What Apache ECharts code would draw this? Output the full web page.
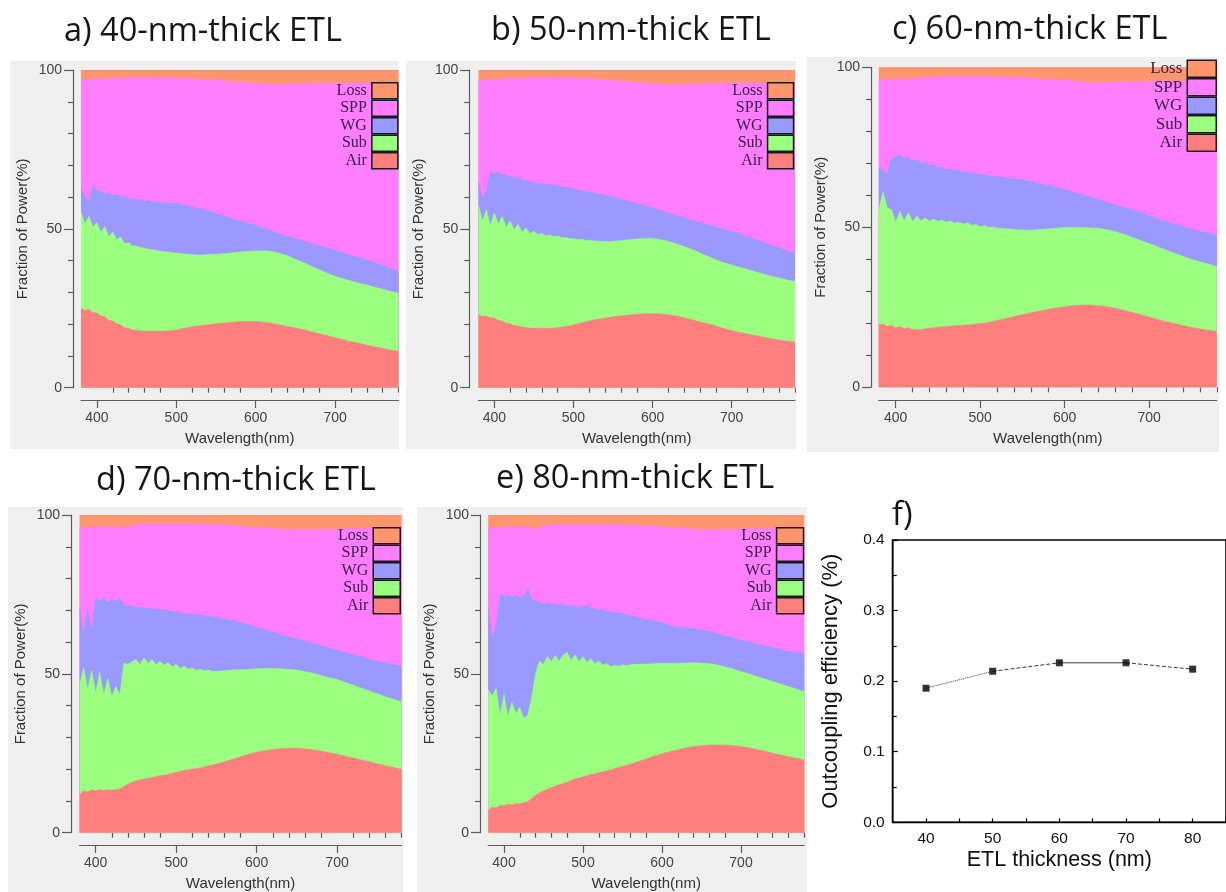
<!DOCTYPE html>
<html>
<head>
<meta charset="utf-8">
<script src="https://cdn.jsdelivr.net/npm/echarts@6/dist/echarts.min.js"></script>
<style>
  html, body { margin: 0; padding: 0; background: #ffffff; }
  #chart { width: 1226px; height: 892px; }
</style>
</head>
<body>
<div id="chart"></div>
<script>
// Wavelength grid (nm): 5 nm steps up to 560 nm, 10 nm steps after.
const wavelength = [
  380,385,390,395,400,405,410,415,420,425,
  430,435,440,445,450,455,460,465,470,475,
  480,485,490,495,500,505,510,515,520,525,
  530,535,540,545,550,555,560,
  570,580,590,600,610,620,630,640,650,660,
  670,680,690,700,710,720,730,740,750,760,770,780
];

// Upper edge of each band (cumulative fraction of power, %). Loss fills up to 100.
// 40-nm ETL
const aAir = [25.0,24.4,24.6,23.7,23.5,22.6,22.3,21.2,21.0,20.1,
  19.8,18.9,18.7,18.2,18.0,17.9,17.8,17.8,17.8,17.8,
  17.8,17.8,17.9,18.0,18.2,18.5,18.7,18.9,19.2,19.4,
  19.5,19.7,19.8,20.0,20.1,20.3,20.4,
  20.6,20.8,20.8,20.8,20.6,20.3,19.8,19.3,18.8,18.3,
  17.6,17.0,16.4,15.7,15.1,14.5,14.0,13.4,12.9,12.4,11.9,11.5];
const aSub = [55.4,51.5,54.0,50.5,52.0,48.8,50.8,47.5,49.0,46.5,
  47.5,45.3,45.6,44.6,44.6,44.1,43.9,43.6,43.4,43.2,
  43.0,42.8,42.7,42.5,42.4,42.2,42.1,42.0,41.9,41.8,
  41.8,41.8,41.9,41.9,42.0,42.1,42.2,
  42.4,42.7,42.9,43.0,43.1,42.9,42.3,41.5,40.4,39.4,
  38.2,37.1,36.0,35.0,34.3,33.6,32.9,32.3,31.6,31.0,30.3,29.7];
const aWg = [62.7,60.0,58.5,63.3,62.2,61.8,61.0,61.2,60.5,60.7,
  60.0,60.1,59.4,59.5,59.0,59.2,58.7,58.9,58.4,58.5,
  58.2,58.3,58.0,58.1,57.9,57.7,57.5,57.2,56.9,56.6,
  56.3,56.0,55.7,55.3,54.9,54.5,54.1,
  53.2,52.5,51.8,51.1,50.2,49.3,48.4,47.6,46.9,46.2,
  45.4,44.7,44.0,43.3,42.5,41.7,40.9,40.1,39.3,38.5,37.6,36.7];
const aSpp = [97.0,97.1,97.1,97.2,97.2,97.3,97.3,97.4,97.4,97.5,
  97.5,97.5,97.6,97.6,97.6,97.6,97.6,97.6,97.6,97.6,
  97.6,97.6,97.5,97.5,97.5,97.4,97.4,97.3,97.3,97.2,
  97.1,97.0,97.0,96.9,96.8,96.7,96.6,
  96.4,96.2,96.0,95.8,95.6,95.5,95.5,95.5,95.6,95.7,
  95.8,95.9,95.9,95.9,95.9,95.9,95.9,95.9,95.9,95.9,95.8,95.8];

// 50-nm ETL
const bAir = [22.9,22.5,22.6,22.0,21.9,21.2,21.0,20.3,20.1,19.6,
  19.4,19.1,18.9,18.8,18.7,18.7,18.7,18.7,18.7,18.8,
  18.9,19.1,19.3,19.5,19.8,20.1,20.4,20.7,21.0,21.3,
  21.5,21.7,21.9,22.1,22.3,22.5,22.6,
  22.9,23.1,23.3,23.3,23.2,23.0,22.6,22.0,21.4,20.7,
  20.1,19.4,18.6,18.0,17.4,16.9,16.4,15.9,15.4,15.0,14.7,14.4];
const bSub = [57.5,52.5,56.0,51.0,55.0,51.5,54.0,50.5,52.5,49.8,
  51.5,49.0,50.3,48.5,49.2,48.2,48.5,47.8,48.1,47.6,
  47.7,47.3,47.2,47.0,46.9,46.6,46.7,46.4,46.4,46.2,
  46.2,46.0,46.1,46.0,46.1,46.2,46.3,
  46.6,46.8,47.0,47.0,46.6,46.1,45.3,44.4,43.5,42.4,
  41.3,40.3,39.3,38.6,37.9,37.2,36.5,35.8,35.1,34.5,33.9,33.4];
const bWg = [64.8,59.6,62.0,68.0,67.3,67.8,67.0,66.8,66.4,66.2,
  65.8,65.5,65.2,64.9,64.6,64.3,64.2,64.0,63.9,63.8,
  63.5,63.2,63.0,62.8,62.6,62.2,62.0,61.8,61.6,61.3,
  61.0,60.8,60.6,60.3,60.0,59.7,59.3,
  58.7,58.0,57.3,56.6,55.8,54.9,54.2,53.4,52.7,52.0,
  51.3,50.6,49.9,49.1,48.4,47.5,46.6,45.7,44.8,44.0,43.1,42.3];
const bSpp = [96.6,96.7,96.8,96.9,97.0,97.1,97.2,97.3,97.3,97.4,
  97.4,97.5,97.5,97.5,97.6,97.6,97.6,97.6,97.6,97.6,
  97.6,97.6,97.6,97.5,97.5,97.5,97.4,97.4,97.3,97.2,
  97.1,97.0,96.9,96.8,96.7,96.6,96.5,
  96.3,96.1,95.9,95.7,95.5,95.4,95.4,95.4,95.5,95.6,
  95.7,95.8,95.8,95.9,95.9,95.9,95.9,95.8,95.8,95.8,95.8,95.8];

// 60-nm ETL
const cAir = [19.5,19.8,19.0,19.4,18.6,19.0,18.3,18.6,18.0,18.1,
  18.0,18.3,18.5,18.6,18.8,18.9,19.0,19.1,19.2,19.3,
  19.4,19.5,19.6,19.8,19.9,20.1,20.3,20.6,20.9,21.2,
  21.5,21.8,22.1,22.4,22.7,23.0,23.3,
  23.8,24.4,24.8,25.2,25.5,25.7,25.7,25.5,25.2,24.7,
  24.1,23.4,22.7,22.0,21.2,20.5,19.9,19.3,18.7,18.2,17.8,17.4];
const cSub = [55.4,61.0,56.0,55.5,51.5,55.0,52.0,54.5,51.8,53.5,
  52.0,52.8,52.0,52.6,51.8,52.3,51.6,52.0,51.3,51.6,
  51.0,51.4,50.6,50.9,50.2,50.5,49.9,50.1,49.7,49.7,
  49.5,49.5,49.3,49.2,49.2,49.1,49.1,
  49.3,49.5,49.7,49.9,49.9,49.9,49.8,49.7,49.2,48.6,
  47.8,46.8,45.9,44.9,43.9,42.9,41.9,40.9,40.0,39.2,38.5,37.7];
const cWg = [68.4,68.0,66.4,71.5,72.0,72.6,71.5,72.0,70.8,71.2,
  70.0,70.2,69.3,69.4,68.6,68.7,68.0,68.2,67.6,67.8,
  67.2,67.3,66.9,66.9,66.5,66.4,66.1,66.0,65.8,65.7,
  65.5,65.3,65.1,65.0,64.8,64.5,64.3,
  63.6,63.1,62.5,61.8,61.0,60.2,59.4,58.6,57.8,57.0,
  56.2,55.4,54.5,53.6,52.7,51.8,51.0,50.2,49.4,48.7,48.1,47.6];
const cSpp = [96.0,96.6,95.8,96.5,96.0,96.6,96.2,96.7,96.3,96.8,
  96.5,96.9,96.7,97.0,97.0,97.1,97.1,97.1,97.1,97.1,
  97.1,97.1,97.1,97.1,97.1,97.1,97.1,97.0,97.0,97.0,
  96.9,96.9,96.8,96.8,96.7,96.7,96.6,
  96.4,96.2,96.1,96.0,95.7,95.4,95.3,95.3,95.3,95.4,
  95.5,95.6,95.6,95.7,95.7,95.7,95.7,95.7,95.7,95.7,95.7,95.7];

// 70-nm ETL
const dAir = [11.9,13.2,12.8,13.5,13.2,13.5,13.3,13.5,13.4,13.6,
  13.8,14.5,15.3,15.9,16.3,16.6,16.9,17.1,17.4,17.7,
  17.9,18.1,18.4,18.7,19.0,19.3,19.6,19.8,20.0,20.2,
  20.4,20.7,21.0,21.3,21.6,21.9,22.3,
  23.1,23.9,24.7,25.3,25.8,26.2,26.5,26.6,26.6,26.4,
  26.1,25.7,25.2,24.7,24.1,23.5,22.9,22.3,21.7,21.1,20.5,19.9];
const dSub = [46.5,52.0,45.0,51.0,44.0,50.5,43.5,48.5,42.8,46.0,
  43.5,53.3,53.0,53.8,54.5,53.0,55.0,53.3,54.5,52.8,
  54.0,52.7,53.5,52.3,53.0,51.7,52.5,51.5,51.8,51.2,
  51.4,51.0,51.2,50.8,50.8,50.9,51.0,
  51.2,51.3,51.4,51.6,51.7,51.7,51.6,51.4,51.2,50.7,
  50.2,49.5,48.8,48.2,47.3,46.4,45.5,44.6,43.7,42.8,42.0,41.2];
const dWg = [71.0,62.0,70.5,63.0,73.8,73.2,73.8,72.5,73.5,72.7,
  73.8,71.6,71.4,71.2,70.8,71.0,70.5,70.7,70.4,70.5,
  70.1,70.3,69.9,69.6,69.4,69.2,69.0,68.9,68.7,68.6,
  68.5,68.3,68.1,67.9,67.8,67.5,67.3,
  66.7,66.1,65.4,64.6,63.9,63.1,62.3,61.6,61.0,60.3,
  59.5,58.8,58.1,57.4,56.7,56.0,55.3,54.6,54.0,53.4,52.9,52.5];
const dSpp = [96.1,96.0,96.2,96.1,96.3,96.3,96.3,96.3,96.3,96.3,
  96.2,96.0,96.4,96.7,97.0,97.1,97.2,97.2,97.2,97.2,
  97.2,97.2,97.2,97.2,97.2,97.2,97.2,97.2,97.2,97.1,
  97.1,97.1,97.0,97.0,97.0,96.9,96.9,
  96.7,96.5,96.3,96.1,95.9,95.7,95.6,95.5,95.5,95.5,
  95.5,95.6,95.6,95.6,95.7,95.7,95.7,95.8,95.8,95.8,95.8,95.8];

// 80-nm ETL
const eAir = [7.1,8.0,7.8,8.6,8.5,8.9,8.8,9.2,9.1,9.4,
  9.8,10.8,11.8,12.6,13.2,13.7,14.2,14.7,15.1,15.5,
  15.9,16.4,17.0,17.2,17.6,18.0,18.4,18.5,18.9,19.2,
  19.5,19.8,20.2,20.5,20.9,21.2,21.6,
  22.4,23.2,24.1,24.9,25.5,26.1,26.7,27.1,27.4,27.6,
  27.6,27.6,27.4,27.1,26.7,26.2,25.7,25.0,24.5,23.9,23.4,22.9];
const eSub = [44.9,43.0,45.4,37.0,43.5,36.5,41.0,37.5,39.5,36.0,
  37.0,42.5,50.0,54.0,53.0,55.5,53.8,55.8,54.0,56.0,
  56.7,54.2,56.0,53.8,55.5,53.5,54.8,53.2,54.0,52.8,
  53.2,52.3,52.6,52.4,52.8,52.6,52.9,
  53.0,53.1,53.2,53.3,53.3,53.3,53.4,53.5,53.4,53.2,
  52.8,52.2,51.5,50.7,50.0,49.2,48.4,47.6,46.8,46.0,45.2,44.4];
const eWg = [71.0,61.0,65.0,74.8,74.5,74.8,74.2,74.6,74.0,74.5,
  76.9,73.2,73.0,72.4,72.0,72.3,71.8,72.0,71.6,71.8,
  71.3,71.5,71.1,71.2,70.9,71.6,70.6,70.5,70.2,70.0,
  69.7,69.5,69.3,69.2,69.0,68.6,68.3,
  67.7,67.1,66.6,66.0,65.2,64.7,64.4,64.2,63.8,63.3,
  62.6,62.0,61.3,60.6,60.0,59.4,58.8,58.2,57.6,57.1,56.8,56.5];
const eSpp = [95.8,95.9,96.0,96.1,96.2,96.3,96.3,96.3,96.4,96.3,
  96.2,95.8,95.5,95.9,96.5,96.8,96.9,97.0,97.0,97.0,
  97.0,97.0,97.0,97.0,97.0,97.0,97.0,97.0,97.0,97.0,
  97.0,97.0,97.0,96.9,96.9,96.9,96.8,
  96.7,96.6,96.5,96.3,96.1,95.9,95.7,95.6,95.5,95.5,
  95.5,95.5,95.6,95.6,95.7,95.7,95.7,95.8,95.8,95.8,95.8,95.8];

// Outcoupling efficiency versus ETL thickness
const thickness = [40, 50, 60, 70, 80];
const efficiency = [0.190, 0.214, 0.226, 0.226, 0.217];

// Tick values
const wlMajorTicks = [400, 500, 600, 700];
const wlMinorTicks = [420,440,460,480,520,540,560,580,620,640,660,680,720,740,760,780];
const thickTicks = [40, 45, 50, 55, 60, 65, 70, 75, 80];
const thickLabels = [40, 50, 60, 70, 80];

const legendOrder = ['Loss', 'SPP', 'WG', 'Sub', 'Air'];
const bandColors = { Air: '#ff7f7f', Sub: '#9bff7f', WG: '#9999ff', SPP: '#ff7dff', Loss: '#ff956c' };

const panels = [
  { title: 'a) 40-nm-thick ETL', air: aAir, sub: aSub, wg: aWg, spp: aSpp },
  { title: 'b) 50-nm-thick ETL', air: bAir, sub: bSub, wg: bWg, spp: bSpp },
  { title: 'c) 60-nm-thick ETL', air: cAir, sub: cSub, wg: cWg, spp: cSpp },
  { title: 'd) 70-nm-thick ETL', air: dAir, sub: dSub, wg: dWg, spp: dSpp },
  { title: 'e) 80-nm-thick ETL', air: eAir, sub: eSub, wg: eWg, spp: eSpp }
];

// Page layout of the five spectra panels
const layout = [
  { grid: { left: 81,    top: 70,   width: 317.6, height: 317.7 }, yOff: 8,   xOff: 12.3,
    legend: { right: 827.4, top: 82,   w: 26, h: 16 }, bg: [10, 61, 389, 388],  title: [64, 32] },
  { grid: { left: 478.5, top: 70,   width: 316.5, height: 317.7 }, yOff: 9.2, xOff: 12.3,
    legend: { right: 431.7, top: 82,   w: 26, h: 16 }, bg: [406, 61, 390, 388], title: [491, 31] },
  { grid: { left: 878.8, top: 67.3, width: 338,   height: 320 },   yOff: 7.7, xOff: 12.7,
    legend: { right: 9,     top: 59.5, w: 29, h: 17 }, bg: [807, 57, 412, 395], title: [892, 30] },
  { grid: { left: 79.6,  top: 515,  width: 322,   height: 317.7 }, yOff: 8.6, xOff: 12.3,
    legend: { right: 825,   top: 527,  w: 27, h: 16 }, bg: [8, 507, 395, 385],  title: [96, 481] },
  { grid: { left: 488.2, top: 515,  width: 316,   height: 317.7 }, yOff: 8.2, xOff: 12.3,
    legend: { right: 421.7, top: 527,  w: 27, h: 16 }, bg: [417, 507, 390, 385], title: [496, 479] }
];

const axisGray = '#5c5c5c';
const sansFont = '"Liberation Sans", Arial, sans-serif';
const titleFont = '32.5px "Open Sans", sans-serif';

const grids = [], xAxes = [], yAxes = [], legends = [], series = [], graphics = [];

panels.forEach((p, i) => {
  const L = layout[i];
  grids.push(Object.assign({ containLabel: false }, L.grid));

  // main wavelength axis with labels and long ticks
  xAxes.push({
    type: 'value', gridIndex: i, position: 'bottom', offset: L.xOff, min: 380, max: 780,
    axisLine: { show: true, onZero: false, lineStyle: { color: axisGray, width: 1.2 } },
    axisTick: { show: true, customValues: wlMajorTicks, length: 8, lineStyle: { color: axisGray, width: 1.2 } },
    axisLabel: { customValues: wlMajorTicks, margin: 11, fontSize: 14, color: '#444', fontFamily: sansFont },
    splitLine: { show: false },
    name: 'Wavelength(nm)', nameLocation: 'middle', nameGap: 31,
    nameTextStyle: { fontSize: 15, color: '#333', fontFamily: sansFont }
  });
  // short intermediate ticks every 20 nm
  xAxes.push({
    type: 'value', gridIndex: i, position: 'bottom', offset: L.xOff, min: 380, max: 780,
    axisLine: { show: false },
    axisTick: { show: true, customValues: wlMinorTicks, length: 5, lineStyle: { color: axisGray, width: 1.2 } },
    axisLabel: { show: false }, splitLine: { show: false }
  });

  yAxes.push({
    type: 'value', gridIndex: i, position: 'left', offset: L.yOff, min: 0, max: 100, interval: 50,
    axisLine: { show: true, onZero: false, lineStyle: { color: axisGray, width: 1.2 } },
    axisTick: { show: true, length: 9, lineStyle: { color: axisGray, width: 1.2 } },
    minorTick: { show: true, splitNumber: 5, length: 5, lineStyle: { color: axisGray, width: 1.2 } },
    axisLabel: { margin: 11, fontSize: 14, color: '#444', fontFamily: sansFont },
    splitLine: { show: false }, minorSplitLine: { show: false },
    name: 'Fraction of Power(%)', nameLocation: 'middle', nameGap: 43, nameRotate: 90,
    nameTextStyle: { fontSize: 15, color: '#333', fontFamily: sansFont }
  });

  legends.push({
    data: legendOrder, orient: 'vertical', right: L.legend.right, top: L.legend.top,
    itemGap: 0, itemWidth: L.legend.w, itemHeight: L.legend.h, icon: 'rect', align: 'right',
    padding: 0, selectedMode: false,
    itemStyle: { borderColor: '#1a1a1a', borderWidth: 1.5 },
    textStyle: { fontFamily: '"Liberation Serif", "Times New Roman", serif', fontSize: L.legend.h,
      lineHeight: L.legend.h, color: '#3a2048' }
  });

  // Each band is filled from its upper edge down to 0; bands further down are
  // painted later, so every colour shows between its own edge and the next one.
  const bands = [
    ['Loss', wavelength.map(() => 100)],
    ['SPP',  p.spp],
    ['WG',   p.wg],
    ['Sub',  p.sub],
    ['Air',  p.air]
  ];
  bands.forEach(([name, edge], b) => {
    series.push({
      type: 'line', name, xAxisIndex: 2 * i, yAxisIndex: i,
      data: wavelength.map((w, k) => [w, edge[k]]),
      symbol: 'none', silent: true, z: 2 + b,
      lineStyle: { width: 0.6, color: bandColors[name] },
      itemStyle: { color: bandColors[name] },
      areaStyle: { color: bandColors[name], opacity: 1, origin: 'start' }
    });
  });

  graphics.push({
    type: 'rect', z: -10, silent: true,
    shape: { x: L.bg[0], y: L.bg[1], width: L.bg[2], height: L.bg[3] },
    style: { fill: '#efefef' }
  });
  graphics.push({
    type: 'text', z: 100, silent: true, x: L.title[0], y: L.title[1],
    style: { text: p.title, font: titleFont, fill: '#151515', align: 'left', verticalAlign: 'middle' }
  });
});

// Panel f: outcoupling efficiency
const fGrid = grids.length;
grids.push({ left: 892.7, top: 540, width: 338, height: 282.3, show: true,
  borderColor: '#000', borderWidth: 1.6, backgroundColor: 'transparent' });
const fX = xAxes.length;
xAxes.push({
  type: 'value', gridIndex: fGrid, position: 'bottom', min: 35, max: 85,
  axisLine: { show: true, onZero: false, lineStyle: { color: '#000', width: 1.4 } },
  axisTick: { show: true, inside: true, customValues: thickTicks, length: 4, lineStyle: { color: '#000', width: 1.2 } },
  axisLabel: { customValues: thickLabels, margin: 8, fontSize: 15.5, color: '#111', fontFamily: sansFont },
  splitLine: { show: false },
  name: 'ETL thickness (nm)', nameLocation: 'middle', nameGap: 27,
  nameTextStyle: { fontSize: 21.5, color: '#111', fontFamily: sansFont }
});
const fY = yAxes.length;
yAxes.push({
  type: 'value', gridIndex: fGrid, position: 'left', min: 0, max: 0.4, interval: 0.1,
  axisLine: { show: true, onZero: false, lineStyle: { color: '#000', width: 1.4 } },
  axisTick: { show: true, inside: true, length: 5, lineStyle: { color: '#000', width: 1.2 } },
  minorTick: { show: true, splitNumber: 2, length: 4, lineStyle: { color: '#000', width: 1.2 } },
  axisLabel: { margin: 8, fontSize: 15.5, color: '#111', fontFamily: sansFont, formatter: v => v.toFixed(1) },
  splitLine: { show: false }, minorSplitLine: { show: false },
  name: 'Outcoupling efficiency (%)', nameLocation: 'middle', nameGap: 51, nameRotate: 90,
  nameTextStyle: { fontSize: 22, color: '#111', fontFamily: sansFont }
});

// connecting segments keep their individual stroke styles
const segmentTypes = ['dotted', 'dashed', 'solid', 'dashed'];
segmentTypes.forEach((t, k) => {
  series.push({
    type: 'line', xAxisIndex: fX, yAxisIndex: fY, silent: true, symbol: 'none',
    data: [[thickness[k], efficiency[k]], [thickness[k + 1], efficiency[k + 1]]],
    lineStyle: { type: t, color: '#3a3a3a', width: 1 }
  });
});
series.push({
  type: 'scatter', xAxisIndex: fX, yAxisIndex: fY, silent: true, symbol: 'rect', symbolSize: 7,
  itemStyle: { color: '#000' }, z: 5,
  data: thickness.map((t, k) => [t, efficiency[k]])
});

graphics.push({
  type: 'text', z: 100, silent: true, x: 892, y: 516,
  style: { text: 'f)', font: titleFont, fill: '#151515', align: 'left', verticalAlign: 'middle' }
});

const chart = echarts.init(document.getElementById('chart'), null, { renderer: 'canvas' });
chart.setOption({
  animation: false,
  backgroundColor: '#ffffff',
  grid: grids,
  xAxis: xAxes,
  yAxis: yAxes,
  legend: legends,
  series: series,
  graphic: { elements: graphics }
});
</script>
</body>
</html>
